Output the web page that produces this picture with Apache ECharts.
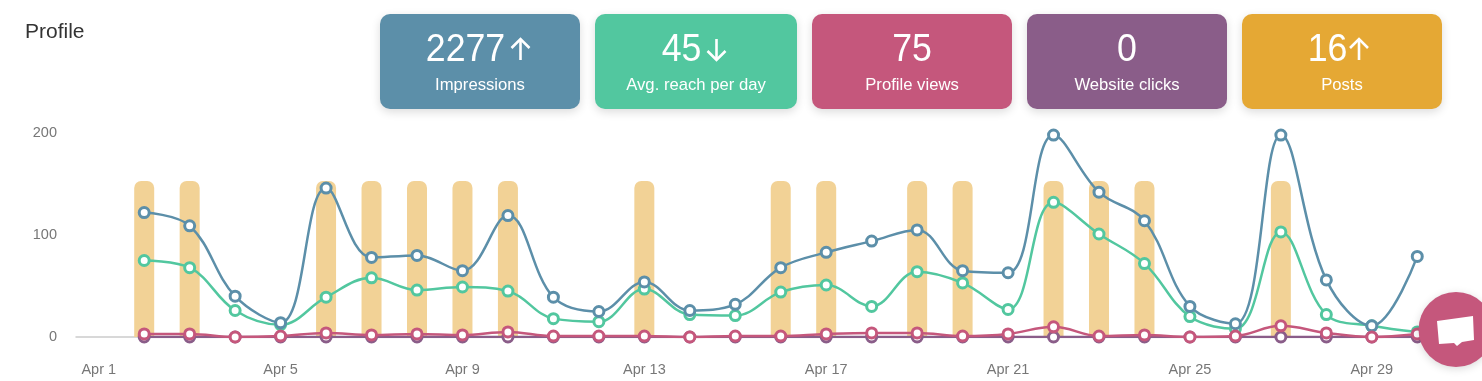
<!DOCTYPE html>
<html><head><meta charset="utf-8">
<style>html,body{margin:0;padding:0;background:#fff}#c{width:1482px;height:381px}</style>
<script src="https://cdn.jsdelivr.net/npm/echarts@6/dist/echarts.min.js"></script>
</head><body><div id="c"></div>
<script>
const days = Array.from({length:30},(_,i)=>'Apr '+(i+1));
const impressions = [null,122,109,40,14,146,78,80,65,119,39,25,54,26,32,68,83,94,105,65,63,198,142,114,30,13,198,56,11,79];
const reach = [null,75,68,26,12,39,58,46,49,45,18,15,47,22,21,44,51,30,64,53,27,132,101,72,20,8,103,22,11,5];
const views = [null,3,3,0,1,4,2,3,2,5,1,1,1,0,1,1,3,4,4,1,3,10,1,2,0,1,11,4,0,3];
const clicks = [null,0,0,0,0,0,0,0,0,0,0,0,0,0,0,0,0,0,0,0,0,0,0,0,0,0,0,0,0,0];
const posts = [0,1,1,0,0,1,1,1,1,1,0,0,1,0,0,1,1,0,1,1,0,1,1,1,0,0,1,0,0,0];
const cardNames = ['Impressions','Avg. reach per day','Profile views','Website clicks','Posts'];
const cardValues = ['2277','45','75','0','16'];
const cardArrows = ['up','down','','','up'];
const cardColors = ['#5c8fa9','#52c79f','#c5577c','#8a5d89','#e5a834'];
const cardX = [380,595,812,1027,1242];
const cardW = [200,202,200,200,200];
const valueX = [465.5,681.5,912,1127,1327.5];
const arrowX = [520.5,716.5,0,0,1359];

const font = '"Liberation Sans",Arial,sans-serif';
function line(name,data,color,z){
  return {name,type:'line',data,smooth:0.38,z,xAxisIndex:0,yAxisIndex:0,symbol:'circle',symbolSize:10,showSymbol:true,
    connectNulls:false,lineStyle:{color,width:2.5},itemStyle:{color:'#fff',borderColor:color,borderWidth:3,opacity:1},
    emphasis:{disabled:true},animation:false};
}
const graphic = [{type:'text',left:25,top:22,style:{text:'Profile',font:'21px '+font,fill:'#333'}}];
cardNames.forEach((n,i)=>{
  graphic.push({type:'rect',z:20,shape:{x:cardX[i],y:14,width:cardW[i],height:95,r:10},
    style:{fill:cardColors[i],shadowBlur:10,shadowOffsetY:3,shadowColor:'rgba(0,0,0,0.14)'}});
  graphic.push({type:'text',z:21,x:valueX[i],y:51,scaleX:0.94,style:{
    text:cardValues[i],font:'38px '+font,fill:'#fff',align:'center',verticalAlign:'middle'}});
  graphic.push({type:'text',z:21,x:cardX[i]+cardW[i]/2,y:85,scaleX:0.98,style:{
    text:n,font:'17px '+font,fill:'#fff',align:'center',verticalAlign:'middle'}});
  if(cardArrows[i]){
    const ax=arrowX[i], up=cardArrows[i]==='up';
    const tip=up?39:60, end=up?60:39, head=up?48:51;
    const st={stroke:'#fff',lineWidth:2.6,fill:null};
    graphic.push({type:'polyline',z:21,shape:{points:[[ax,tip],[ax,end]]},style:st});
    graphic.push({type:'polyline',z:21,shape:{points:[[ax-9,head],[ax,tip],[ax+9,head]]},style:st});
  }
});
graphic.push({type:'circle',z:30,shape:{cx:1456,cy:329.5,r:37.5},
  style:{fill:'#c5577c',shadowBlur:8,shadowColor:'rgba(0,0,0,0.15)',shadowOffsetY:2}});
graphic.push({type:'polygon',z:31,shape:{points:[[1437,321],[1473,316],[1474,340],[1462,342],[1457,346],[1454,343],[1439,344]]},style:{fill:'#fff'}});

echarts.init(document.getElementById('c'),null,{renderer:'canvas'}).setOption({
  animation:false,
  backgroundColor:'#fff',
  grid:{left:76,right:42,top:133,height:204,containLabel:false},
  xAxis:[{type:'category',data:days,boundaryGap:true,
    axisLine:{show:true,lineStyle:{color:'#ccc',width:1.5}},axisTick:{show:false},
    axisLabel:{interval:3,color:'#777',margin:25,fontFamily:font,fontSize:14.5},splitLine:{show:false}}],
  yAxis:[{type:'value',min:0,max:200,interval:100,axisLine:{show:false},axisTick:{show:false},splitLine:{show:false},
      axisLabel:{color:'#777',fontFamily:font,fontSize:14.5,margin:19}},
    {type:'value',min:0,max:1.308,show:false,splitLine:{show:false}}],
  series:[
    {name:'Posts',type:'bar',data:posts,yAxisIndex:1,barWidth:20,z:1,
      itemStyle:{color:'#f2d296',borderRadius:[7,7,0,0]},emphasis:{disabled:true}},
    line('Website clicks',clicks,'#8a5d89',3),
    line('Avg. reach per day',reach,'#52c79f',4),
    line('Impressions',impressions,'#5c8fa9',5),
    line('Profile views',views,'#c5577c',6)
  ],
  graphic
});
</script></body></html>
